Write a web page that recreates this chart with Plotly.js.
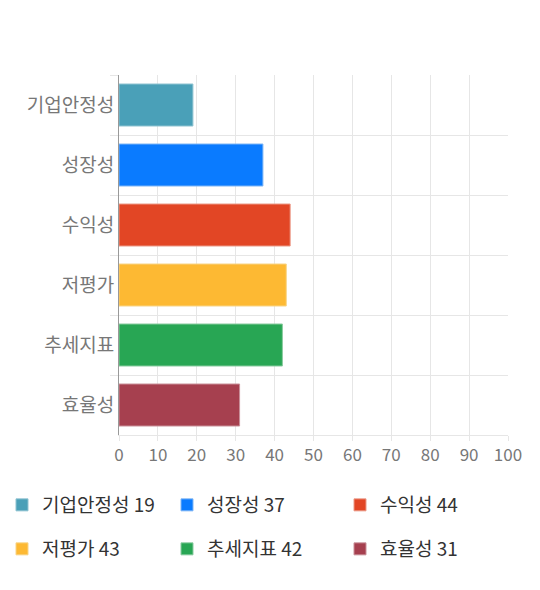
<!DOCTYPE html>
<html>
<head>
<meta charset="utf-8">
<script src="https://cdn.plot.ly/plotly-3.0.1.min.js"></script>
<style>
  html, body { margin: 0; padding: 0; background: #fff; }
  #chart { width: 540px; height: 590px; }
</style>
</head>
<body>
<div id="chart"></div>
<script>
var categories = ["기업안정성", "성장성", "수익성", "저평가", "추세지표", "효율성"];
var scores = [19, 37, 44, 43, 42, 31];
var colors = ["#4aa0b8", "#0a7bff", "#e24625", "#fdb933", "#28a654", "#a6404f"];
var borders = ["#8fc3d1", "#7fb6f5", "#eb9a88", "#f8d487", "#89cb9f", "#c99099"];
var xTicks = [0, 10, 20, 30, 40, 50, 60, 70, 80, 90, 100];

// legend placement (pixels): left edge of each entry, row centre
var legendLeft = [2, 167, 340, 2, 167, 340];
var legendRow = [505, 505, 505, 549, 549, 549];

var font = "'Noto Sans CJK KR', 'Noto Sans', sans-serif";

var legendId = function(i){ return i == 0 ? 'legend' : 'legend' + (i + 1); };

var traces = categories.map(function(name, i){
    return {
        type: 'bar',
        orientation: 'h',
        y: [name],
        x: [scores[i]],
        width: 0.7,
        name: name + ' ' + scores[i],
        legend: legendId(i),
        marker: { color: colors[i], line: { color: borders[i], width: 1 } },
        hoverinfo: 'none'
    };
});

var layout = {
    width: 540,
    height: 590,
    margin: { l: 119, r: 32, t: 75, b: 155 },
    paper_bgcolor: '#fff',
    plot_bgcolor: '#fff',
    barmode: 'overlay',
    showlegend: true,
    font: { family: font },
    xaxis: {
        range: [0, 100],
        tickvals: xTicks,
        ticktext: xTicks.map(String),
        showgrid: true,
        gridcolor: '#e6e6e6',
        zeroline: false,
        showline: true,
        linecolor: '#e6e6e6',
        ticks: 'outside',
        ticklen: 5,
        tickcolor: '#e6e6e6',
        tickfont: { family: font, size: 17, color: '#777' },
        fixedrange: true
    },
    yaxis: {
        categoryorder: 'array',
        categoryarray: categories,
        autorange: 'reversed',
        tickson: 'boundaries',
        showgrid: true,
        gridcolor: '#e6e6e6',
        ticks: 'outside',
        ticklen: 8,
        tickcolor: '#e6e6e6',
        showline: true,
        linecolor: '#999',
        zeroline: false,
        tickfont: { family: font, size: 19, color: '#777' },
        fixedrange: true
    }
};

categories.forEach(function(c, i){
    layout[legendId(i)] = {
        orientation: 'h',
        xref: 'container', yref: 'container',
        x: legendLeft[i] / 540, y: 1 - legendRow[i] / 590,
        xanchor: 'left', yanchor: 'middle',
        font: { family: font, size: 19, color: '#333' },
        bgcolor: 'rgba(0,0,0,0)'
    };
});

Plotly.newPlot('chart', traces, layout, { displayModeBar: false, staticPlot: true });
</script>
</body>
</html>
